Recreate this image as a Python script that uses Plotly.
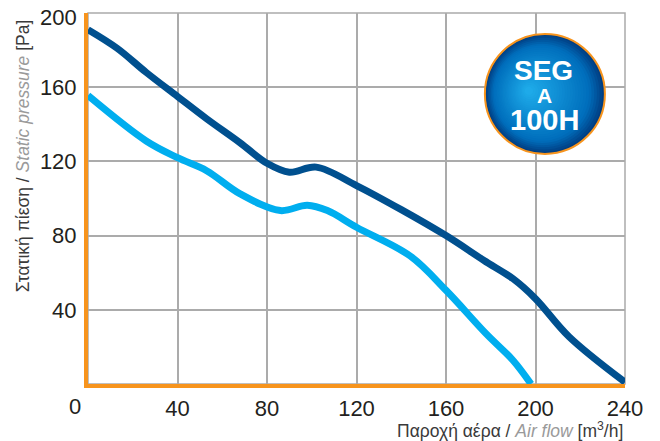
import plotly.graph_objects as go

# Data
airflow_dark = [0, 13, 26, 40, 53, 68, 80, 90, 102, 120, 140, 160, 177, 190, 200, 215, 240]
pressure_dark = [191, 181, 168, 155, 143, 130, 119, 114.2, 116.9, 107, 94, 80, 66.6, 56.7, 46, 25.5, 1]

airflow_light = [0, 26, 40, 53, 68, 86, 98, 107, 120, 144, 160, 178, 190, 198]
pressure_light = [155.5, 131, 122, 115, 102.5, 93.5, 96.4, 93.5, 84.5, 69, 50.5, 27, 12.7, 0]

x_ticks = [40, 80, 120, 160, 200, 240]
y_ticks = [40, 80, 120, 160, 200]

FONT = "Arial, 'Liberation Sans', sans-serif"
ORANGE = "#F7941D"
GRID = "#ABABAB"
DARK = "#00508F"
LIGHT = "#00AEEF"
TXT = "#231F20"
TICK_SIZE = 22

# page body has an 8px margin: shift the layout to compensate
OFF = 8

fig = go.Figure()
fig.add_trace(go.Scatter(x=airflow_dark, y=pressure_dark, mode="lines",
                         line=dict(color=DARK, width=7, shape="spline", smoothing=1.0),
                         hoverinfo="skip"))
fig.add_trace(go.Scatter(x=airflow_light, y=pressure_light, mode="lines",
                         line=dict(color=LIGHT, width=7, shape="spline", smoothing=1.0),
                         hoverinfo="skip"))

shapes = []
shapes.append(dict(type="rect", xref="paper", yref="paper", x0=0, x1=1, y0=0, y1=1,
                   line=dict(color=GRID, width=1.5), layer="below"))

# badge with simulated radial gradient
cx, cy = 204.2, 156.4
R = 60
N = 28
edge = (0, 62, 130)
mid = (0, 110, 188)
hi = (30, 170, 233)
focus_dx, focus_dy = -16, -3
for i in range(N):
    t = i / (N - 1)
    r = R * (1 - t * 0.93)
    if t < 0.2:
        u = t / 0.2
        c = tuple(int(edge[k] + (mid[k] - edge[k]) * u) for k in range(3))
    else:
        u = (t - 0.2) / 0.8
        c = tuple(int(mid[k] + (hi[k] - mid[k]) * u) for k in range(3))
    ox = focus_dx * t
    oy = focus_dy * t
    line = dict(color=ORANGE, width=2) if i == 0 else dict(width=0)
    shapes.append(dict(type="circle", xref="x", yref="y", xsizemode="pixel", ysizemode="pixel",
                       xanchor=cx, yanchor=cy,
                       x0=ox - r, x1=ox + r, y0=-oy - r, y1=-oy + r,
                       fillcolor="rgb(%d,%d,%d)" % c, line=line, layer="above"))

# tick labels: the top one is nudged down as in the reference
y_ticktext = [str(v) if v != 200 else "" for v in y_ticks]

annotations = [
    dict(x=cx, y=cy, xref="x", yref="y", text="<b>SEG</b>", showarrow=False,
         font=dict(family=FONT, size=28, color="white"), xshift=-1, yshift=23),
    dict(x=cx, y=cy, xref="x", yref="y", text="<b>A</b>", showarrow=False,
         font=dict(family=FONT, size=21, color="white"), xshift=0, yshift=-2),
    dict(x=cx, y=cy, xref="x", yref="y", text="<b>100H</b>", showarrow=False,
         font=dict(family=FONT, size=29, color="white"), xshift=0, yshift=-26),
    dict(x=0, y=y_ticks[-1], xref="x", yref="y", text=str(y_ticks[-1]), showarrow=False,
         xanchor="right", yanchor="middle",
         font=dict(family=FONT, size=TICK_SIZE, color=TXT), xshift=-9, yshift=-4),
    dict(x=0, y=0, xref="x", yref="y", text="0", showarrow=False,
         font=dict(family=FONT, size=TICK_SIZE, color=TXT), xshift=-13, yshift=-22),
    dict(x=1, y=0, xref="paper", yref="paper", xanchor="right", yanchor="middle",
         text="Παροχή αέρα / <i><span style='color:#9A9A9A'>Air flow</span></i> [m<sup>3</sup>/h]",
         showarrow=False, yshift=-46, xshift=0,
         font=dict(family=FONT, size=17.5, color="#3A3A3A")),
    dict(x=0, y=0.614, xref="paper", yref="paper", xanchor="center", yanchor="middle",
         textangle=-90,
         text="Στατική πίεση / <i><span style='color:#9A9A9A'>Static pressure</span></i> [Pa]",
         showarrow=False, xshift=-65,
         font=dict(family=FONT, size=17.5, color="#3A3A3A")),
]

fig.update_layout(
    width=660, height=441,
    margin=dict(l=88 - OFF, r=35 + OFF, t=12.5 - OFF, b=57 + OFF, autoexpand=False),
    paper_bgcolor="white", plot_bgcolor="white",
    showlegend=False,
    shapes=shapes,
    annotations=annotations,
    xaxis=dict(range=[0, 240], tickvals=x_ticks, ticktext=[str(v) for v in x_ticks],
               showgrid=True, gridcolor=GRID, gridwidth=1.5, zeroline=False,
               showline=True, linecolor=ORANGE, linewidth=4, ticks="",
               ticklabelstandoff=2, automargin=False, ticklabeloverflow="allow",
               tickfont=dict(family=FONT, size=TICK_SIZE, color=TXT)),
    yaxis=dict(range=[0, 200], tickvals=y_ticks, ticktext=y_ticktext,
               showgrid=True, gridcolor=GRID, gridwidth=1.5, zeroline=False,
               showline=True, linecolor=ORANGE, linewidth=4, ticks="",
               ticklabelstandoff=3, automargin=False, ticklabeloverflow="allow",
               tickfont=dict(family=FONT, size=TICK_SIZE, color=TXT)),
)

fig.write_html("out.html")
